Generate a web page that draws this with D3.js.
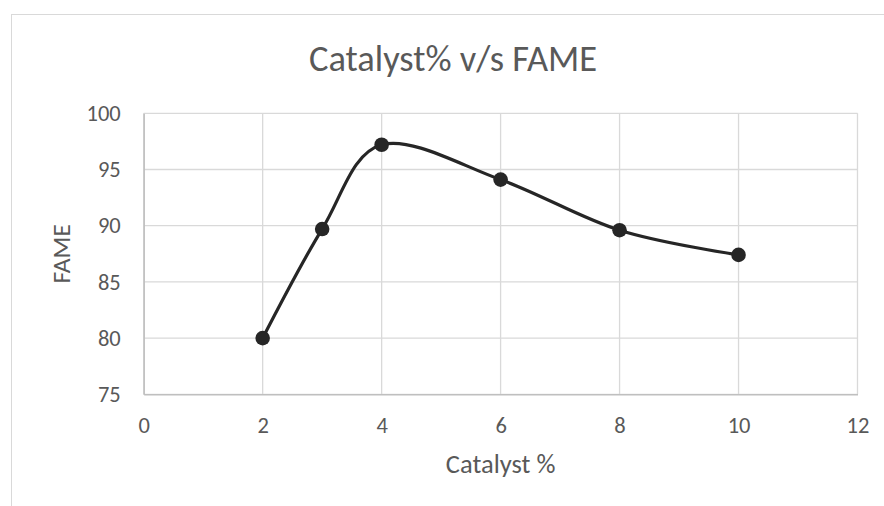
<!DOCTYPE html>
<html>
<head>
<meta charset="utf-8">
<script src="https://cdn.jsdelivr.net/npm/d3@7/dist/d3.min.js"></script>
<style>
  html, body { margin: 0; padding: 0; background: #ffffff; }
  svg { display: block; }
  text { font-family: Carlito, Calibri, Lato, "Open Sans", sans-serif; fill: #595959; }
</style>
</head>
<body>
<svg id="chart" width="884" height="506"></svg>
<script>
// Catalyst loading (%) against FAME yield
const catalyst = [2, 3, 4, 6, 8, 10];
const fame = [80, 89.7, 97.2, 94.1, 89.6, 87.4];

const xTicks = [0, 2, 4, 6, 8, 10, 12];
const yTicks = [75, 80, 85, 90, 95, 100];

const chartTitle = "Catalyst% v/s FAME";
const xTitle = "Catalyst %";
const yTitle = "FAME";

const svg = d3.select("#chart");

// chart frame (runs past the right and bottom edges)
svg.append("rect")
  .attr("x", 11.5).attr("y", 14.5)
  .attr("width", 900).attr("height", 520)
  .attr("fill", "#ffffff")
  .attr("stroke", "#d9d9d9")
  .attr("stroke-width", 1);

const plot = { left: 143.7, right: 857.5, top: 113.3, bottom: 394.3 };

const x = d3.scaleLinear().domain([0, 12]).range([plot.left, plot.right]);
const y = d3.scaleLinear().domain([75, 100]).range([plot.bottom, plot.top]);

// gridlines
const grid = svg.append("g");
grid.selectAll("line.h").data(yTicks).join("line")
  .attr("class", "h")
  .attr("x1", plot.left).attr("x2", plot.right)
  .attr("y1", d => y(d)).attr("y2", d => y(d))
  .attr("stroke", "#d9d9d9").attr("stroke-width", 1.3);
grid.selectAll("line.v").data(xTicks).join("line")
  .attr("class", "v")
  .attr("y1", plot.top).attr("y2", plot.bottom)
  .attr("x1", d => x(d)).attr("x2", d => x(d))
  .attr("stroke", "#d9d9d9").attr("stroke-width", 1.3);

// axes
const xAxis = svg.append("g")
  .attr("transform", `translate(0,${plot.bottom})`)
  .call(d3.axisBottom(x).tickValues(xTicks).tickSize(0).tickPadding(23).tickFormat(d3.format("d")));
const yAxis = svg.append("g")
  .attr("transform", `translate(${plot.left},0)`)
  .call(d3.axisLeft(y).tickValues(yTicks).tickSize(0).tickPadding(23).tickFormat(d3.format("d")));

[xAxis, yAxis].forEach(g => {
  g.select(".domain").attr("stroke", "#bfbfbf").attr("stroke-width", 1.5);
  g.selectAll("text")
    .attr("fill", "#595959")
    .style("font-size", "22.5px")
    .style("font-family", "Carlito, Calibri, Lato, sans-serif");
});
xAxis.selectAll("text").attr("dy", "0.71em");

// titles
svg.append("text")
  .attr("x", 453).attr("y", 71)
  .attr("text-anchor", "middle")
  .style("font-size", "36.5px")
  .text(chartTitle);

svg.append("text")
  .attr("x", (plot.left + plot.right) / 2).attr("y", 473)
  .attr("text-anchor", "middle")
  .style("font-size", "26.5px")
  .text(xTitle);

svg.append("text")
  .attr("transform", `translate(70,${(plot.top + plot.bottom) / 2}) rotate(-90)`)
  .attr("text-anchor", "middle")
  .style("font-size", "25.5px")
  .text(yTitle);

// smoothed series line and markers
const pts = catalyst.map((c, i) => [c, fame[i]]);
const line = d3.line()
  .x(d => x(d[0]))
  .y(d => y(d[1]))
  .curve(d3.curveCardinal.tension(0));

svg.append("path")
  .datum(pts)
  .attr("d", line)
  .attr("fill", "none")
  .attr("stroke", "#262626")
  .attr("stroke-width", 3.2)
  .attr("stroke-linejoin", "round");

svg.append("g").selectAll("circle").data(pts).join("circle")
  .attr("cx", d => x(d[0]))
  .attr("cy", d => y(d[1]))
  .attr("r", 7.3)
  .attr("fill", "#262626");
</script>
</body>
</html>
